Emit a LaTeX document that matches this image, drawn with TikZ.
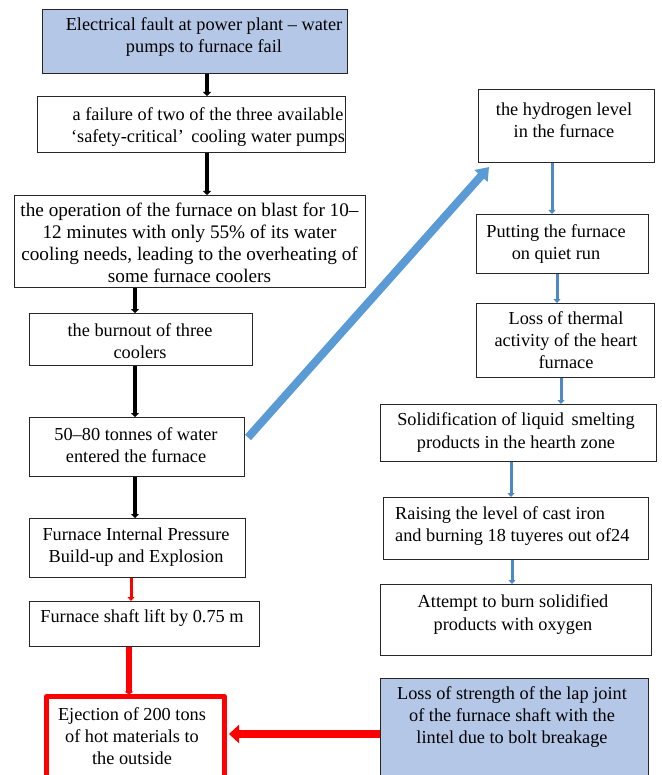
\documentclass[tikz,border=0pt]{standalone}
\usepackage{fontspec}
\setmainfont{Liberation Serif}
\usetikzlibrary{arrows.meta}
\definecolor{boxblue}{HTML}{B4C7E7}
\definecolor{arrblue}{HTML}{5B9BD5}
\definecolor{vblue}{HTML}{4F88C6}
\definecolor{edge}{HTML}{262626}
\tikzset{
  box/.style={draw=edge, line width=1pt, inner sep=0pt, anchor=north west},
  txt/.style={font=\fontsize{18.3}{22.3}\selectfont, align=center, inner sep=0pt},
  blk/.style={draw=black, line width=3.5pt, -{Triangle[width=8pt,length=4pt]}},
  redthin/.style={draw=red, line width=3pt, -{Triangle[width=7pt,length=4pt]}},
  redthick/.style={draw=red, line width=6pt, -{Triangle[width=9pt,length=3pt]}},
  redbig/.style={draw=red, line width=8pt, -{Triangle[width=18pt,length=10pt]}},
  vbl/.style={draw=vblue, line width=3pt, -{Triangle[width=7pt,length=4pt]}},
  diag/.style={draw=arrblue, line width=8pt, -{Triangle[width=17pt,length=12pt]}}
}
\begin{document}
\begin{tikzpicture}[x=1pt,y=-1pt]
\useasboundingbox (0,0) rectangle (661,775);
\clip (0,0) rectangle (661,775);
\fill[white] (0,0) rectangle (661,775);
% left column boxes
\node[box, fill=boxblue, minimum width=305pt, minimum height=64pt] (b1) at (42,9) {};
\node[box, minimum width=308pt, minimum height=56pt] (b2) at (37,96) {};
\node[box, minimum width=351pt, minimum height=92pt] (b3) at (14,195) {};
\node[box, minimum width=223pt, minimum height=52pt] (b4) at (29,313) {};
\node[box, minimum width=215pt, minimum height=59pt] (b5) at (29,417) {};
\node[box, minimum width=216pt, minimum height=59pt] (b6) at (29,518) {};
\node[box, minimum width=230pt, minimum height=45pt] (b7) at (29,601) {};
\node[box, draw=red, line width=5pt, line join=round, minimum width=178pt, minimum height=90pt] (b8) at (44,694) {};
\node[box, fill=boxblue, minimum width=268pt, minimum height=110pt] (b9) at (380,678) {};
% right column boxes
\node[box, minimum width=176pt, minimum height=73pt] (h1) at (478,89) {};
\node[box, minimum width=172pt, minimum height=59pt] (h2) at (476,214) {};
\node[box, minimum width=178pt, minimum height=74pt] (h3) at (476,303) {};
\node[box, minimum width=276pt, minimum height=57pt] (h4) at (380,404) {};
\node[box, minimum width=265pt, minimum height=62pt] (h5) at (383,497) {};
\node[box, minimum width=271pt, minimum height=71pt] (h6) at (380,584) {};
% texts
\node[txt] (t1) at (204,37) {Electrical fault at power plant -- water\\pumps to furnace fail};
\node[txt] (t2) at (208,127) {a failure of two of the three available\\`safety-critical'\, cooling water pumps};
\node[txt, font=\fontsize{19.2}{21.8}\selectfont] (t3) at (189.5,243) {the operation of the furnace on blast for 10--\\12 minutes with only 55\% of its water\\cooling needs, leading to the overheating of\\some furnace coolers};
\node[txt] (t4) at (140,341) {the burnout of three\\coolers};
\node[txt] (t5) at (136,445) {50--80 tonnes of water\\entered the furnace};
\node[txt] (t6) at (136,547) {Furnace Internal Pressure\\Build-up and Explosion};
\node[txt] (t7) at (142,618) {Furnace shaft lift by 0.75 m};
\node[txt] (t8) at (132,736) {Ejection of 200 tons\\of hot materials to\\the outside};
\node[txt] (t9) at (512,717) {Loss of strength of the lap joint\\of the furnace shaft with the\\lintel due to bolt breakage};
\node[txt] (s1) at (564,120) {the hydrogen level\\in the furnace};
\node[txt] (s2) at (556,244) {Putting the furnace\\on quiet run};
\node[txt] (s3) at (566,340) {Loss of thermal\\activity of the heart\\furnace};
\node[txt] (s4) at (516,432.5) {Solidification of liquid\, smelting\\products in the hearth zone};
\node[txt, align=left, anchor=west] (s5) at (395,526) {Raising the level of cast iron\\and burning 18 tuyeres out of24};
\node[txt] (s6) at (513,614.5) {Attempt to burn solidified\\products with oxygen};
% black connectors
\draw[blk] (b1.south -| 207,0) -- (b2.north -| 207,0);
\draw[blk] (b2.south -| 207,0) -- (b3.north -| 207,0);
\draw[blk] (b3.south -| 135,0) -- (b4.north -| 135,0);
\draw[blk] (b4.south -| 135,0) -- (b5.north -| 135,0);
\draw[blk] (b5.south -| 135,0) -- (b6.north -| 135,0);
% red connectors
\draw[redthin] (b6.south -| 131,0) -- (b7.north -| 131,0);
\draw[redthick] (b7.south -| 129,0) -- ([yshift=-0.5pt]b8.north -| 129,0);
\draw[redbig] (b9.west |- 0,734) -- ([xshift=2pt]b8.east |- 0,734);
% blue connectors
\draw[vbl] (h1.south -| 552,0) -- (h2.north -| 552,0);
\draw[vbl] (h2.south -| 557,0) -- (h3.north -| 557,0);
\draw[vbl] (h3.south -| 561,0) -- (h4.north -| 561,0);
\draw[vbl] (h4.south -| 511,0) -- (h5.north -| 511,0);
\draw[vbl] (h5.south -| 512,0) -- (h6.north -| 512,0);
\draw[diag] ([xshift=3pt,yshift=9.5pt]b5.east) -- ([shift={(11,4)}]h1.south west);
\end{tikzpicture}
\end{document}
